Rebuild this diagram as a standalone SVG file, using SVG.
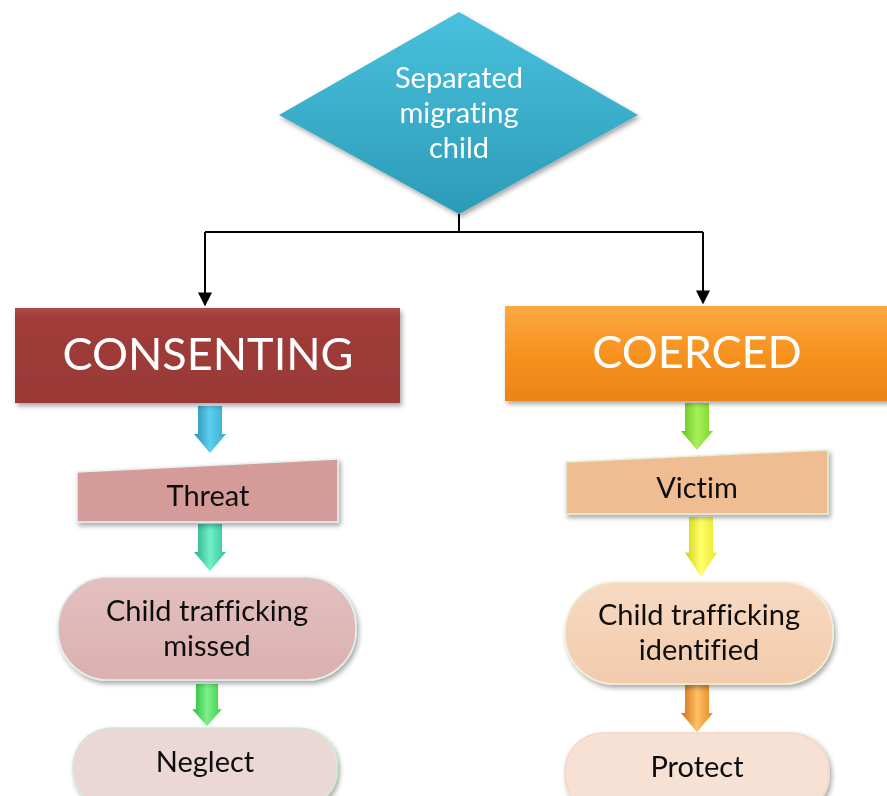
<svg xmlns="http://www.w3.org/2000/svg" width="887" height="796" viewBox="0 0 887 796">
<defs>
<style>
text{font-family:Lato,"Liberation Sans",sans-serif;text-anchor:middle;font-variant-ligatures:none}
.w{fill:#fff}
.k{fill:#111}
.big{font-size:45px}
.mid{font-size:29px}
.conn{stroke:#000;stroke-width:2;fill:none}
</style>
<filter id="sh" x="-10%" y="-10%" width="125%" height="130%">
<feDropShadow dx="2" dy="3" stdDeviation="2.5" flood-color="#000" flood-opacity="0.35"/>
</filter>
<marker id="ah" viewBox="0 0 10 10" refX="9" refY="5" markerWidth="7" markerHeight="7" orient="auto">
<path d="M0,0 L10,5 L0,10 z" fill="#000"/>
</marker>
<linearGradient id="gDia" x1="0" y1="0" x2="0" y2="1"><stop offset="0" stop-color="#49c1dc"/><stop offset="1" stop-color="#2c9bb8"/></linearGradient>
<linearGradient id="gCons" x1="0" y1="0" x2="0" y2="1"><stop offset="0" stop-color="#b04a48"/><stop offset="0.1" stop-color="#a03c3a"/><stop offset="1" stop-color="#993936"/></linearGradient>
<linearGradient id="gCoer" x1="0" y1="0" x2="0" y2="1"><stop offset="0" stop-color="#fbaa40"/><stop offset="0.5" stop-color="#f7921f"/><stop offset="1" stop-color="#ea8418"/></linearGradient>
<linearGradient id="aBlue" x1="0" y1="0" x2="1" y2="0"><stop offset="0" stop-color="#2d8fb3"/><stop offset="0.5" stop-color="#5cd0ef"/><stop offset="1" stop-color="#3aa8cc"/></linearGradient>
<linearGradient id="aTeal" x1="0" y1="0" x2="1" y2="0"><stop offset="0" stop-color="#2aae8a"/><stop offset="0.5" stop-color="#6ff0c6"/><stop offset="1" stop-color="#35c49c"/></linearGradient>
<linearGradient id="aGreen" x1="0" y1="0" x2="1" y2="0"><stop offset="0" stop-color="#25b93a"/><stop offset="0.5" stop-color="#7ef08a"/><stop offset="1" stop-color="#38cf4a"/></linearGradient>
<linearGradient id="aLime" x1="0" y1="0" x2="1" y2="0"><stop offset="0" stop-color="#62c21a"/><stop offset="0.5" stop-color="#a9f05a"/><stop offset="1" stop-color="#79d82a"/></linearGradient>
<linearGradient id="aYel" x1="0" y1="0" x2="1" y2="0"><stop offset="0" stop-color="#d0d016"/><stop offset="0.5" stop-color="#ffff6a"/><stop offset="1" stop-color="#e6e62a"/></linearGradient>
<linearGradient id="aOr" x1="0" y1="0" x2="1" y2="0"><stop offset="0" stop-color="#d06d12"/><stop offset="0.5" stop-color="#ffc064"/><stop offset="1" stop-color="#e68522"/></linearGradient>
<linearGradient id="gMiss" x1="0" y1="0" x2="0" y2="1"><stop offset="0" stop-color="#e3c0c0"/><stop offset="1" stop-color="#dab0b0"/></linearGradient>
<linearGradient id="gIdent" x1="0" y1="0" x2="0" y2="1"><stop offset="0" stop-color="#f7dac3"/><stop offset="1" stop-color="#f2cbac"/></linearGradient>
<path id="barrow" d="M-12,0 H12 V28 H16 L0,47 L-16,28 H-12 Z"/>
</defs>
<rect width="887" height="796" fill="#fff"/>

<g id="connectors">
<path class="conn" d="M459,214 V232"/>
<path class="conn" d="M205,232 H703"/>
<path class="conn" d="M205,232 V305" marker-end="url(#ah)"/>
<path class="conn" d="M703,232 V303" marker-end="url(#ah)"/>
<g id="arrows">
<use href="#barrow" transform="translate(210,406)" fill="url(#aBlue)"/>
<use href="#barrow" transform="translate(210,524)" fill="url(#aTeal)"/>
<use href="#barrow" transform="translate(207,684) scale(0.92,0.9)" fill="url(#aGreen)"/>
<use href="#barrow" transform="translate(697,403)" fill="url(#aLime)"/>
<use href="#barrow" transform="translate(701,517) scale(1,1.27)" fill="url(#aYel)"/>
<use href="#barrow" transform="translate(697,685)" fill="url(#aOr)"/>
</g>
</g>

<g id="n-start" filter="url(#sh)">
<polygon points="459,12 638,115 459,214 279,115" fill="url(#gDia)"/>
<text class="w mid" x="459" y="88">Separated</text>
<text class="w mid" x="459" y="123">migrating</text>
<text class="w mid" x="459" y="158">child</text>
</g>

<g id="n-consenting" filter="url(#sh)">
<rect x="15" y="308" width="385" height="95" fill="url(#gCons)"/>
<text class="w big" x="208" y="370">CONSENTING</text>
</g>

<g id="n-coerced" filter="url(#sh)">
<rect x="505" y="306" width="385" height="95" fill="url(#gCoer)"/>
<text class="w big" x="697" y="368">COERCED</text>
</g>

<g id="n-threat" filter="url(#sh)">
<polygon points="77,472 338,459 338,522 77,522" fill="#d49b99" stroke="#e7f0f3" stroke-width="1.5"/>
<text class="k mid" x="208" y="506">Threat</text>
</g>

<g id="n-victim" filter="url(#sh)">
<polygon points="566,462 828,450 828,514 566,514" fill="#f0bc92" stroke="#e3f0d4" stroke-width="1.5"/>
<text class="k mid" x="697" y="498">Victim</text>
</g>

<g id="n-missed" filter="url(#sh)">
<rect x="58" y="577" width="298" height="103" rx="50" fill="url(#gMiss)" stroke="#e2f0ee" stroke-width="1.5"/>
<text class="k mid" x="207" y="621">Child trafficking</text>
<text class="k mid" x="207" y="656">missed</text>
</g>

<g id="n-identified" filter="url(#sh)">
<rect x="565" y="582" width="268" height="102" rx="50" fill="url(#gIdent)" stroke="#f3efd2" stroke-width="1.5"/>
<text class="k mid" x="699" y="625">Child trafficking</text>
<text class="k mid" x="699" y="660">identified</text>
</g>

<g id="n-neglect" filter="url(#sh)">
<rect x="73" y="728" width="264" height="80" rx="38" fill="#ecd7d7" stroke="#cdeecd" stroke-width="1.5"/>
<text class="k mid" x="205" y="772">Neglect</text>
</g>

<g id="n-protect" filter="url(#sh)">
<rect x="565" y="733" width="264" height="80" rx="38" fill="#f6e1d4" stroke="#f4d7c6" stroke-width="1.5"/>
<text class="k mid" x="697" y="777">Protect</text>
</g>
</svg>
